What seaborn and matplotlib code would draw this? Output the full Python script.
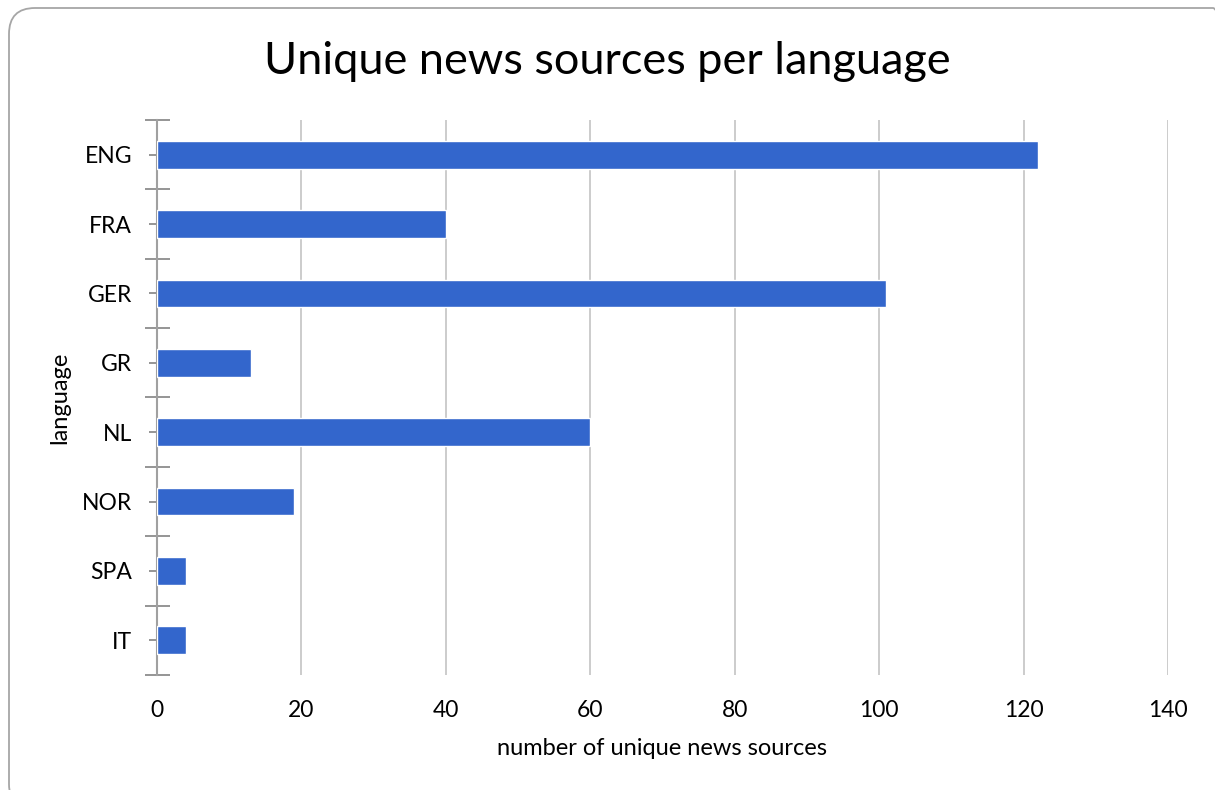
import matplotlib
matplotlib.use("Agg")
import matplotlib.pyplot as plt
from matplotlib.patches import FancyBboxPatch
from matplotlib.transforms import IdentityTransform
import seaborn as sns
import pandas as pd

# Values
languages = ["ENG", "FRA", "GER", "GR", "NL", "NOR", "SPA", "IT"]
sources = [122, 40, 101, 13, 60, 19, 4, 4]
x_ticks = [0, 20, 40, 60, 80, 100, 120, 140]

df = pd.DataFrame({"language": languages, "sources": sources})

sns.set_style("white")
plt.rcParams['font.family'] = ['Lato', 'DejaVu Sans']
plt.rcParams['text.color'] = 'black'
plt.rcParams['axes.labelcolor'] = 'black'
plt.rcParams['xtick.color'] = 'black'
plt.rcParams['ytick.color'] = 'black'

fig = plt.figure(figsize=(12.15, 7.9), dpi=100)
ax = fig.add_axes([0.1292, 0.1456, 0.8321, 0.7025])

sns.barplot(data=df, x="sources", y="language", order=languages,
            color="#3366CC", saturation=1, width=0.4, ax=ax, zorder=3)

ax.set_xlim(0, 140)
ax.set_ylim(len(languages) - 0.5, -0.5)
ax.set_xticks(x_ticks)
ax.set_xticklabels([str(t) for t in x_ticks], fontsize=16.5)
ax.tick_params(axis="x", bottom=False, length=0, pad=18)
ax.xaxis.grid(True, color="#c8c8c8", linewidth=1.3, zorder=0)
ax.set_axisbelow(True)

# category ticks at centers, longer ticks at boundaries
ax.set_yticks(range(len(languages)))
ax.set_yticklabels(languages, fontsize=16.5)
ax.set_yticks([i - 0.5 for i in range(len(languages) + 1)], minor=True)
ax.tick_params(axis="y", which="major", left=True, direction="inout",
               length=12, width=1.3, color="#8c8c8c", labelcolor="black",
               pad=12)
ax.tick_params(axis="y", which="minor", left=True, direction="inout",
               length=18, width=1.3, color="#8c8c8c")

for side in ["top", "right", "bottom"]:
    ax.spines[side].set_visible(False)
ax.spines["left"].set_color("#a0a0a0")
ax.spines["left"].set_linewidth(1.5)

ax.set_xlabel("number of unique news sources", fontsize=17, labelpad=12)
ax.set_ylabel("language", fontsize=17, labelpad=8)
fig.text(0.5, 0.922, "Unique news sources per language", ha="center",
         va="center", fontsize=32.5)

# rounded chart border
frame = FancyBboxPatch((9, -20), 1230, 802,
                       boxstyle="round,pad=0,rounding_size=26",
                       transform=IdentityTransform(), facecolor="none",
                       edgecolor="#a6a6a6", linewidth=1.3)
fig.patches.append(frame)

fig.savefig("out.png", dpi=100)
